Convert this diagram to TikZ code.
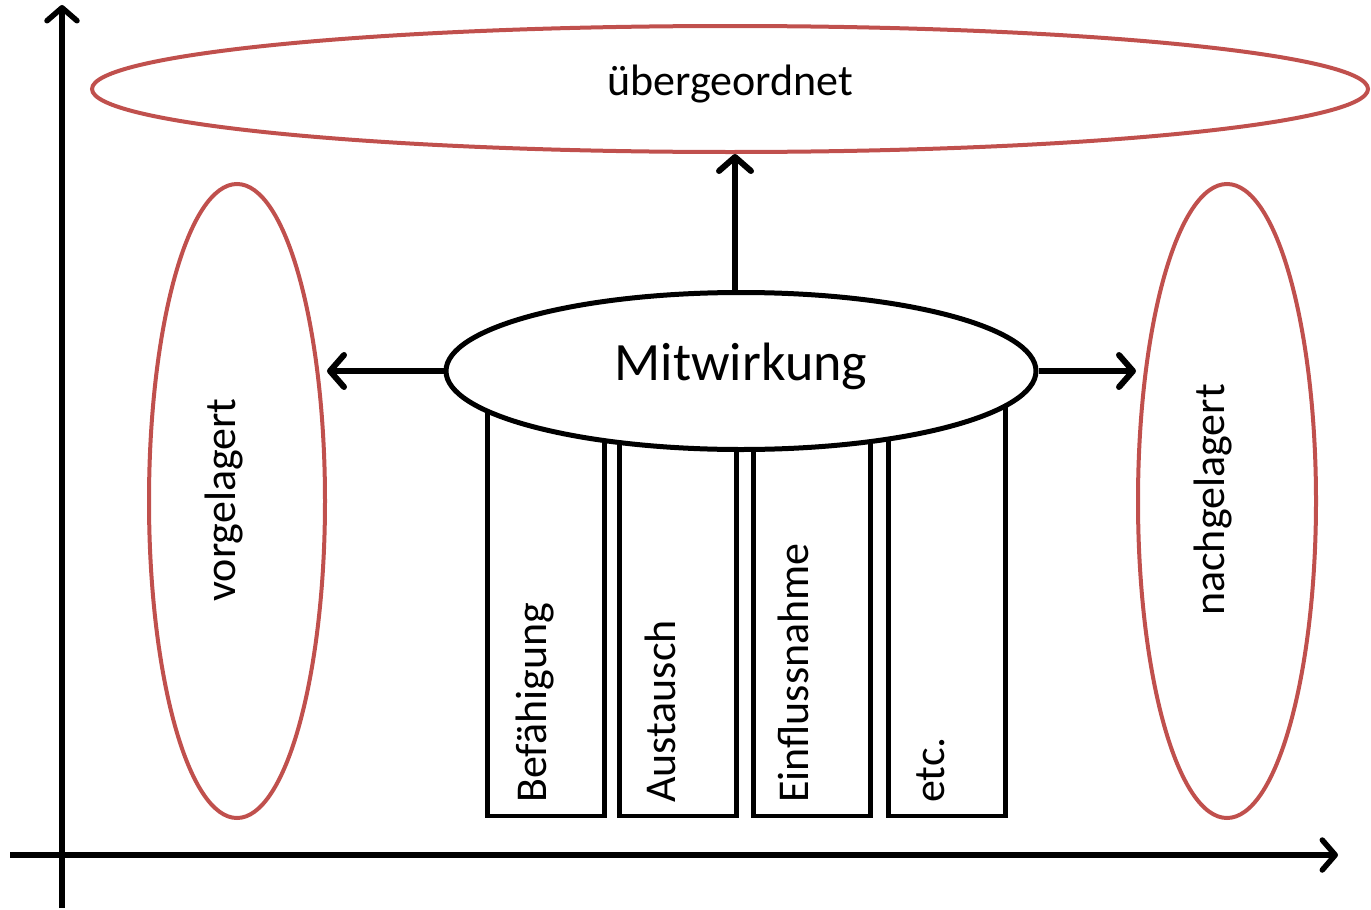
\documentclass[tikz,border=0pt]{standalone}
\usepackage{fontspec}
\setmainfont{Carlito}
\usetikzlibrary{shapes.geometric,arrows.meta}
\definecolor{ellred}{RGB}{192,80,77}
\tikzset{
  redell/.style={draw=ellred, line width=4pt, ellipse, inner sep=0pt},
  pillar/.style={draw=black, fill=white, line width=4.5pt, rectangle, inner sep=0pt, minimum width=117pt, minimum height=418pt, anchor=south west},
  plabel/.style={rotate=90, anchor=base west, inner sep=0pt, font=\fontsize{44}{50}\selectfont},
  smalltext/.style={font=\fontsize{44}{50}\selectfont},
  arr/.style={line width=6pt, -{Straight Barb[length=14pt,width=32pt,line cap=round,line join=round]}},
  axis/.style={line width=5.5pt, -{Straight Barb[length=13pt,width=30pt,line cap=round,line join=round]}}
}
\begin{document}
\begin{tikzpicture}[x=1pt,y=-1pt]
\useasboundingbox (0,0) rectangle (1371,910);
% axes
\coordinate (xs) at (10,855);
\coordinate (xe) at (1338,855);
\coordinate (ys) at (62,908);
\coordinate (ye) at (62,5);
\draw[axis] (xs) -- (xe);
\draw[axis] (ys) -- (ye);
% red ellipses
\node[redell, minimum width=1276pt, minimum height=126pt] (top) at (730,89) {};
\node[smalltext] (toptxt) at (730,84) {übergeordnet};
\node[redell, minimum width=176pt, minimum height=634pt] (left) at (237,501) {};
\node[smalltext, rotate=90] (lefttxt) at (224,500) {vorgelagert};
\node[redell, minimum width=178pt, minimum height=634pt] (right) at (1227,501) {};
\node[smalltext, rotate=90] (righttxt) at (1213,500) {nachgelagert};
% pillars
\node[pillar] (p1) at (485,818) {};
\node[pillar] (p2) at (617,818) {};
\node[pillar] (p3) at (751,818) {};
\node[pillar] (p4) at (886,818) {};
\node[plabel] (l1) at (546,803) {Befähigung};
\node[plabel] (l2) at (675,803) {Austausch};
\node[plabel] (l3) at (808,803) {Einflussnahme};
\node[plabel] (l4) at (944,803) {etc.};
% central ellipse
\node[draw=black, fill=white, line width=5pt, ellipse, inner sep=0pt, minimum width=590pt, minimum height=157pt] (mit) at (741,371) {};
\node[font=\fontsize{54}{60}\selectfont] (mittxt) at (741,366) {Mitwirkung};
% arrows
\draw[arr] ([xshift=-6pt]mit.north) -- ([xshift=-6pt]mit.north |- top.south);
\draw[arr] (mit.west) -- (mit.west -| left.east);
\draw[arr] (mit.east) -- (mit.east -| right.west);
\end{tikzpicture}
\end{document}
